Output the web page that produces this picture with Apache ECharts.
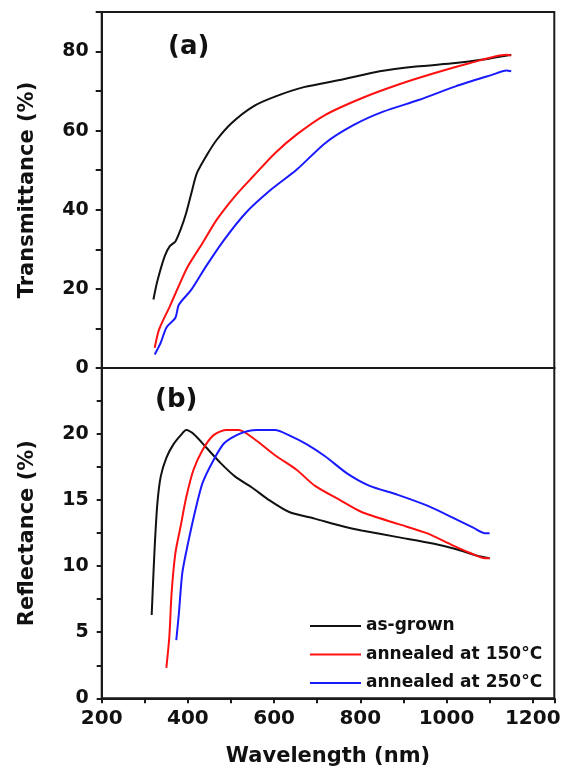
<!DOCTYPE html>
<html>
<head>
<meta charset="utf-8">
<script src="https://cdn.jsdelivr.net/npm/echarts@6/dist/echarts.min.js"></script>
<style>
  html, body { margin: 0; padding: 0; background: #ffffff; }
  #chart { width: 564px; height: 773px; }
</style>
</head>
<body>
<div id="chart"></div>
<script>
// Series names (legend)
const seriesNames = ['as-grown', 'annealed at 150°C', 'annealed at 250°C'];
const seriesColors = ['#111111', '#ff1010', '#1a1aff'];

// (a) Transmittance (%) vs wavelength (nm)
const tAsGrownNm  = [320, 329, 346, 358, 371, 383, 396, 408, 421, 442, 467, 501, 551, 602, 669, 761, 845, 929, 1021, 1080, 1150];
const tAsGrownVal = [17.3, 21.9, 28.2, 30.8, 32.0, 35.0, 39.2, 44.2, 49.3, 53.5, 57.7, 61.9, 66.1, 68.6, 71.0, 73.0, 75.0, 76.2, 77.1, 77.9, 79.2];

const t150Nm  = [323, 333, 358, 375, 400, 434, 467, 509, 551, 602, 652, 719, 803, 887, 971, 1055, 1139, 1150];
const t150Val = [5.1, 9.7, 15.6, 19.8, 25.7, 31.6, 37.5, 43.4, 48.4, 54.3, 59.0, 64.0, 68.2, 71.6, 74.5, 77.1, 79.2, 79.0];

const t250Nm  = [323, 337, 350, 371, 379, 408, 442, 484, 534, 593, 652, 719, 786, 853, 937, 1021, 1105, 1139, 1150];
const t250Val = [3.4, 6.4, 10.2, 12.7, 16.0, 19.8, 25.7, 32.4, 39.2, 45.1, 50.1, 56.9, 61.5, 64.8, 67.8, 71.2, 74.1, 75.2, 75.0];

// (b) Reflectance (%) vs wavelength (nm)
const rAsGrownNm  = [316, 318, 323, 329, 337, 350, 366, 383, 396, 417, 442, 476, 509, 551, 584, 635, 694, 761, 803, 887, 971, 1021, 1071, 1100];
const rAsGrownVal = [6.3, 7.9, 11.5, 14.7, 16.8, 18.2, 19.2, 19.9, 20.3, 19.9, 19.0, 17.8, 16.8, 15.9, 15.1, 14.1, 13.6, 13.0, 12.7, 12.2, 11.7, 11.3, 10.8, 10.6];

const r150Nm  = [350, 357, 362, 371, 383, 396, 413, 434, 459, 488, 518, 551, 602, 652, 694, 753, 803, 887, 954, 1013, 1055, 1089, 1100];
const r150Val = [2.3, 4.7, 7.9, 11.0, 13.0, 15.2, 17.3, 18.8, 19.9, 20.3, 20.3, 19.7, 18.4, 17.3, 16.1, 15.0, 14.1, 13.2, 12.5, 11.6, 11.0, 10.6, 10.6];

const r250Nm  = [373, 379, 387, 400, 417, 434, 459, 484, 518, 560, 602, 635, 677, 719, 770, 820, 887, 954, 1013, 1063, 1089, 1100];
const r250Val = [4.4, 6.4, 9.5, 11.7, 14.2, 16.3, 18.0, 19.3, 20.0, 20.3, 20.3, 19.9, 19.2, 18.3, 17.0, 16.1, 15.4, 14.6, 13.7, 12.9, 12.5, 12.5];

// Axis ticks
const xMin = 200, xMax = 1250, xStep = 100, xLabelStep = 200;
const tMin = 0, tMax = 90, tStep = 10, tLabelStep = 20;
const rMin = 0, rMax = 25, rStep = 2.5, rLabelStep = 5;

const pairs = (xs, ys) => xs.map((x, i) => [x, ys[i]]);

const FONT = 'DejaVu Sans';
const INK = '#1a1a1a';

function makeSeries(name, color, data, idx) {
  return {
    name: name,
    type: 'line',
    xAxisIndex: idx,
    yAxisIndex: idx,
    data: data,
    showSymbol: false,
    symbol: 'none',
    smooth: 0.25,
    lineStyle: { color: color, width: 2 },
    itemStyle: { color: color }
  };
}

const chart = echarts.init(document.getElementById('chart'), null, { renderer: 'canvas' });

const baseX = {
  type: 'value',
  min: xMin,
  max: xMax,
  interval: xStep,
  splitLine: { show: false },
  axisLine: { show: true, onZero: false, lineStyle: { color: INK, width: 2 } }
};

chart.setOption({
  animation: false,
  backgroundColor: '#ffffff',
  grid: [
    { left: 101.7, right: 9.7, top: 12, height: 356, show: true, borderColor: INK, borderWidth: 2 },
    { left: 101.7, right: 9.7, top: 368, bottom: 74.7, show: true, borderColor: INK, borderWidth: 2 }
  ],
  xAxis: [
    Object.assign({}, baseX, {
      gridIndex: 0,
      axisTick: { show: false },
      axisLabel: { show: false }
    }),
    Object.assign({}, baseX, {
      gridIndex: 1,
      axisTick: { show: true, length: 5, lineStyle: { color: INK, width: 2 } },
      axisLabel: {
        margin: 10,
        fontFamily: FONT, fontWeight: 'bold', fontSize: 20, color: '#111',
        formatter: v => (v % xLabelStep === 0 && v <= 1200) ? String(v) : ''
      },
      name: 'Wavelength (nm)',
      nameLocation: 'middle',
      nameGap: 48,
      nameTextStyle: { fontFamily: FONT, fontWeight: 'bold', fontSize: 21, color: '#111' }
    })
  ],
  yAxis: [
    {
      gridIndex: 0,
      type: 'value',
      min: tMin, max: tMax, interval: tStep,
      splitLine: { show: false },
      axisLine: { show: true, onZero: false, lineStyle: { color: INK, width: 2 } },
      axisTick: { show: true, length: 6, lineStyle: { color: INK, width: 2 } },
      axisLabel: {
        margin: 13,
        fontFamily: FONT, fontWeight: 'bold', fontSize: 19, color: '#111',
        formatter: v => (v % tLabelStep === 0 && v < tMax) ? String(v) : ''
      },
      name: 'Transmittance (%)',
      nameLocation: 'middle',
      nameGap: 64,
      nameTextStyle: { fontFamily: FONT, fontWeight: 'bold', fontSize: 21, color: '#111' }
    },
    {
      gridIndex: 1,
      type: 'value',
      min: rMin, max: rMax, interval: rStep,
      splitLine: { show: false },
      axisLine: { show: true, onZero: false, lineStyle: { color: INK, width: 2 } },
      axisTick: { show: true, length: 5, lineStyle: { color: INK, width: 2 } },
      axisLabel: {
        margin: 13,
        fontFamily: FONT, fontWeight: 'bold', fontSize: 19, color: '#111',
        formatter: v => (v % rLabelStep === 0 && v < rMax) ? String(v) : ''
      },
      name: 'Reflectance (%)',
      nameLocation: 'middle',
      nameGap: 64,
      nameTextStyle: { fontFamily: FONT, fontWeight: 'bold', fontSize: 21, color: '#111' }
    }
  ],
  legend: {
    orient: 'vertical',
    left: 310,
    top: 616,
    padding: 0,
    itemWidth: 51,
    itemHeight: 2,
    itemGap: 8.5,
    icon: 'rect',
    data: seriesNames,
    textStyle: { fontFamily: FONT, fontWeight: 'bold', fontSize: 17, color: '#111', lineHeight: 20 }
  },
  graphic: [
    { type: 'text', left: 168, top: 34, style: { text: '(a)', font: 'bold 26px "DejaVu Sans"', fill: '#111' } },
    { type: 'text', left: 155, top: 387, style: { text: '(b)', font: 'bold 26px "DejaVu Sans"', fill: '#111' } }
  ],
  series: [
    makeSeries(seriesNames[0], seriesColors[0], pairs(tAsGrownNm, tAsGrownVal), 0),
    makeSeries(seriesNames[1], seriesColors[1], pairs(t150Nm, t150Val), 0),
    makeSeries(seriesNames[2], seriesColors[2], pairs(t250Nm, t250Val), 0),
    makeSeries(seriesNames[0], seriesColors[0], pairs(rAsGrownNm, rAsGrownVal), 1),
    makeSeries(seriesNames[1], seriesColors[1], pairs(r150Nm, r150Val), 1),
    makeSeries(seriesNames[2], seriesColors[2], pairs(r250Nm, r250Val), 1)
  ]
});
</script>
</body>
</html>
